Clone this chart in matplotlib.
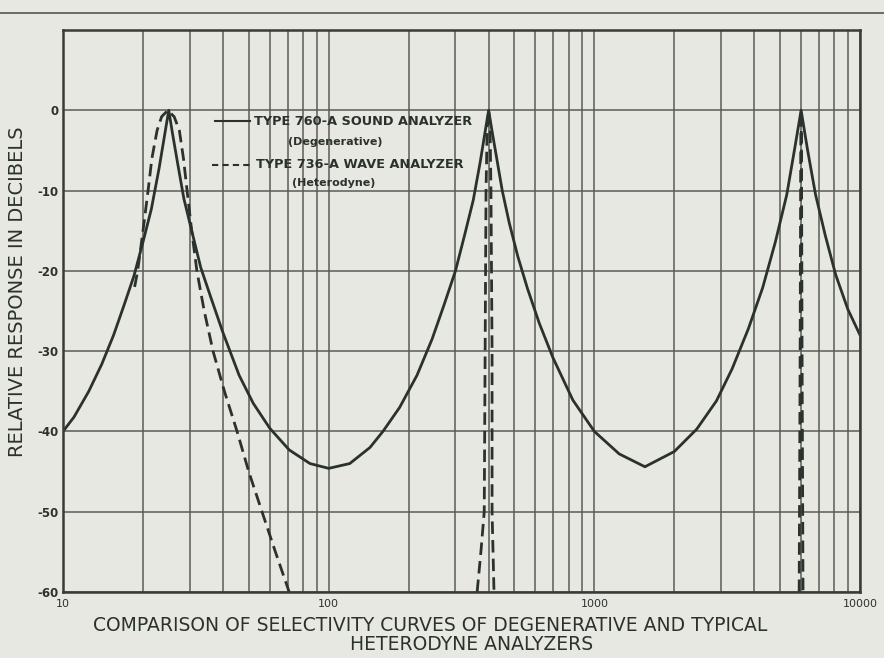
import numpy as np
import matplotlib

matplotlib.use("Agg")
import matplotlib.pyplot as plt
from matplotlib.lines import Line2D

# degenerative analyzer (solid), frequency in c/s and response in dB
sound_freq = [10, 11, 12.5, 14, 15.5, 17, 18.5, 20, 21.5, 23, 24.2, 25,
              25.8, 27, 28.5, 30.5, 33, 36, 40, 46, 52, 60, 71, 85, 100,
              120, 143, 160, 185, 215, 245, 272, 300, 325, 350, 372, 390, 400,
              412, 428, 450, 478, 515, 560, 620, 698, 830, 1000, 1240, 1550,
              2000, 2430, 2880, 3300, 3800, 4300, 4800, 5300, 5700, 6000,
              6350, 6800, 7400, 8100, 9000, 10000]
sound_db = [-40, -38.2, -35, -31.6, -28, -24.2, -20.6, -16.4, -12.3, -7.2, -2.8, 0,
            -2.8, -6.6, -11, -15, -19.6, -23.3, -27.7, -33, -36.5, -39.6, -42.3, -44, -44.6,
            -44, -42, -40, -37, -33, -28.5, -24.2, -20, -15.5, -11.2, -6.4, -2.2, 0,
            -2.6, -5.8, -10, -14, -18.2, -22.2, -26.5, -30.8, -36.1, -40, -42.8, -44.4,
            -42.5, -39.7, -36.2, -32.2, -27.2, -22.1, -16.4, -10.5, -4.4, 0,
            -5, -10.5, -15.6, -20.5, -24.8, -28]

# heterodyne analyzer (dashed), three settings
wave1_freq = [18.6, 19.1, 20.0, 20.9, 21.6, 22.6, 23.5, 24.8, 26.2, 27.4, 28.4, 29.3,
              30.5, 31.9, 34, 36.7, 40.5, 45.2, 50, 56.1, 63, 71]
wave1_db = [-22, -20, -15, -10, -6, -2.5, -0.8, 0, -0.8, -2.5, -6, -10,
            -15, -20, -25, -30, -35, -40, -45, -50, -55, -60]
wave2_freq = [362, 374, 385, 388, 391, 395, 400, 405, 408, 412, 412, 419]
wave2_db = [-60, -55, -50, -30, -10, -2, 0, -2, -10, -30, -50, -60]
wave3_freq = [5900, 5950, 5980, 6000, 6020, 6050, 6100]
wave3_db = [-60, -30, -5, 0, -5, -30, -60]

x_ticks = [10, 100, 1000, 10000]
x_labels = ["10", "100", "1000", "10000"]
y_ticks = [-60, -50, -40, -30, -20, -10, 0]
y_labels = ["-60", "-50", "-40", "-30", "-20", "-10", "0"]

paper = "#e8e8e2"
ink = "#2b322e"
grid_ink = "#5a5a58"

fig = plt.figure(figsize=(8.84, 6.58), dpi=100, facecolor=paper)
ax = fig.add_axes([0.0713, 0.1003, 0.9016, 0.8541], facecolor=paper)

ax.set_xscale("log")
ax.set_xlim(10, 10000)
ax.set_ylim(-60, 10)

ax.set_xticks(x_ticks)
ax.set_xticklabels(x_labels, fontsize=8, color=ink)
ax.set_yticks(y_ticks)
ax.set_yticklabels(y_labels, fontsize=8.5, color=ink, fontweight="bold")
ax.tick_params(which="both", length=0, pad=3)
ax.tick_params(axis="x", pad=5)

ax.grid(True, which="both", axis="x", color=grid_ink, linewidth=1.1)
ax.grid(True, which="major", axis="y", color=grid_ink, linewidth=1.1)
for s in ax.spines.values():
    s.set_color("#3a3a38")
    s.set_linewidth(1.8)

ax.plot(sound_freq, sound_db, color=ink, linewidth=2.0, solid_joinstyle="round")
for fq, db in ((wave1_freq, wave1_db), (wave2_freq, wave2_db), (wave3_freq, wave3_db)):
    ax.plot(fq, db, color=ink, linewidth=2.0, linestyle=(0, (4.5, 2.2)))

# hand-lettered key
tr = ax.transAxes
ax.add_line(Line2D([0.191, 0.235], [0.838, 0.838], transform=tr, color=ink, linewidth=1.5))
ax.text(0.240, 0.838, "TYPE 760-A SOUND ANALYZER", transform=tr, fontsize=9.3,
        fontweight="bold", color=ink, va="center", ha="left")
ax.text(0.341, 0.801, "(Degenerative)", transform=tr, fontsize=8, fontweight="bold",
        color=ink, va="center", ha="center")
ax.add_line(Line2D([0.187, 0.238], [0.760, 0.760], transform=tr, color=ink, linewidth=1.5,
                   linestyle=(0, (3, 2))))
ax.text(0.242, 0.760, "TYPE 736-A WAVE ANALYZER", transform=tr, fontsize=9.3,
        fontweight="bold", color=ink, va="center", ha="left")
ax.text(0.340, 0.728, "(Heterodyne)", transform=tr, fontsize=8, fontweight="bold",
        color=ink, va="center", ha="center")

fig.text(0.020, 0.556, "RELATIVE RESPONSE IN DECIBELS", rotation=90, fontsize=14,
         color=ink, ha="center", va="center")
fig.text(0.487, 0.049, "COMPARISON OF SELECTIVITY CURVES OF DEGENERATIVE AND TYPICAL",
         fontsize=13.5, color=ink, ha="center", va="center")
fig.text(0.534, 0.020, "HETERODYNE ANALYZERS", fontsize=13.5, color=ink,
         ha="center", va="center")

# page edge line at the top of the scan
fig.add_artist(Line2D([0, 1], [0.981, 0.981], transform=fig.transFigure,
                      color="#555553", linewidth=1.2))

fig.savefig("out.png", dpi=100, facecolor=paper)
